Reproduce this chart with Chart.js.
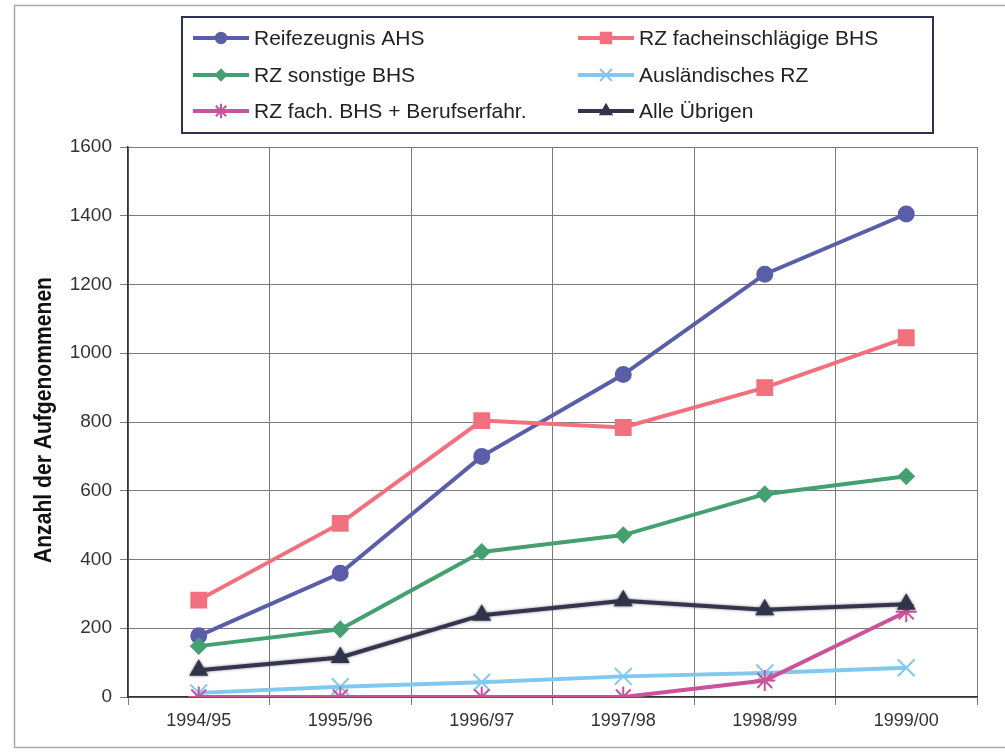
<!DOCTYPE html>
<html>
<head>
<meta charset="utf-8">
<script src="https://cdn.jsdelivr.net/npm/chart.js@4/dist/chart.umd.min.js"></script>
<style>
  html, body { margin: 0; padding: 0; background: #fff; }
  #wrap { width: 1005px; height: 753px; position: relative; }
</style>
</head>
<body>
<div id="wrap"><canvas id="LineChart"></canvas></div>
<script>
const years = ["1994/95", "1995/96", "1996/97", "1997/98", "1998/99", "1999/00"];

const reifeAHS = [178, 360, 700, 938, 1230, 1405];
const rzFachBHS = [282, 505, 804, 784, 900, 1045];
const rzSonstBHS = [148, 197, 422, 471, 590, 642];
const auslRZ = [12, 30, 43, 60, 70, 85];
const rzFachBeruf = [0, 0, 0, 0, 48, 248];
const alleUebrigen = [78, 115, 238, 280, 254, 270];

const yTicks = [0, 200, 400, 600, 800, 1000, 1200, 1400, 1600];

const FONT = "'Liberation Sans', Arial, sans-serif";

const series = [
  { label: "Reifezeugnis AHS", data: reifeAHS, color: "#5a5ea8", style: "circle", r: 7.5 },
  { label: "RZ facheinschlägige BHS", data: rzFachBHS, color: "#f2707e", style: "rect", r: 10.5 },
  { label: "RZ sonstige BHS", data: rzSonstBHS, color: "#45a071", style: "rectRot", r: 7.5 },
  { label: "Ausländisches RZ", data: auslRZ, color: "#80c8ee", style: "crossRot", r: 12 },
  { label: "RZ fach. BHS + Berufserfahr.", data: rzFachBeruf, color: "#c9529a", style: "star", r: 10.5 },
  { label: "Alle Übrigen", data: alleUebrigen, color: "#33354f", style: "triangle", r: 9 },
];

// frame, axis title and two-column legend drawn by hand
const framePlugin = {
  id: "frame",
  beforeDraw(chart) {
    const c = chart.ctx;
    c.save();
    c.fillStyle = "#fff";
    c.fillRect(0, 0, chart.width, chart.height);
    c.strokeStyle = "#aaa";
    c.lineWidth = 1.5;
    c.strokeRect(14.5, 5.5, 1000, 742);
    // y axis title, squeezed like the narrow original
    const title = "Anzahl der Aufgenommenen";
    c.font = "bold 24px " + FONT;
    const w = c.measureText(title).width;
    c.translate(44, 420);
    c.rotate(-Math.PI / 2);
    c.scale(286 / w, 1);
    c.fillStyle = "#111";
    c.textAlign = "center";
    c.textBaseline = "middle";
    c.fillText(title, 0, 0);
    c.restore();
  },
  beforeDatasetDraw(chart, args) {
    if (args.index === 5) {
      chart.ctx.save();
      chart.ctx.shadowColor = "rgba(40,40,40,0.55)";
      chart.ctx.shadowBlur = 3;
    }
  },
  afterDatasetDraw(chart, args) {
    if (args.index === 5) chart.ctx.restore();
  },
  afterDraw(chart) {
    const c = chart.ctx;
    c.save();
    c.strokeStyle = "#2c3150";
    c.lineWidth = 2;
    c.strokeRect(182, 17, 751, 116);
    const cols = [193, 578];
    const rows = [38, 75, 111];
    chart.data.datasets.forEach((ds, i) => {
      const x = cols[i % 2];
      const y = rows[Math.floor(i / 2)];
      c.strokeStyle = ds.borderColor;
      c.lineWidth = 4;
      c.beginPath();
      c.moveTo(x, y);
      c.lineTo(x + 56, y);
      c.stroke();
      c.fillStyle = ds.borderColor;
      c.lineWidth = 2;
      Chart.helpers.drawPoint(c, {
        pointStyle: ds.pointStyle, radius: ds.pointRadius * 0.7, rotation: 0, borderWidth: 2
      }, x + 28, y);
      c.fillStyle = "#222";
      c.font = "21px " + FONT;
      c.textBaseline = "middle";
      c.fillText(ds.label, x + 61, y + 1);
    });
    c.restore();
  }
};

new Chart(document.getElementById("LineChart"), {
  type: "line",
  data: {
    labels: years,
    datasets: series.map((s, i) => ({
      label: s.label,
      data: s.data,
      borderColor: s.color,
      backgroundColor: s.color,
      borderWidth: 4,
      pointStyle: s.style,
      pointRadius: s.r,
      pointBorderWidth: 2,
      pointBorderColor: s.color,
      pointBackgroundColor: s.color,
      tension: 0,
      order: 10 - i,
    })),
  },
  options: {
    responsive: true,
    maintainAspectRatio: false,
    animation: false,
    layout: { padding: { left: 20, right: 28, top: 147, bottom: 0 } },
    plugins: { legend: { display: false }, tooltip: { enabled: false } },
    scales: {
      x: {
        offset: true,
        grid: { offset: true, color: "#7a7a7a", lineWidth: 1, tickLength: 8, drawTicks: true },
        border: { color: "#333", width: 1.5 },
        ticks: { color: "#333", font: { family: FONT, size: 18 }, padding: 5 },
        afterFit: s => { s.height = 56; },
      },
      y: {
        min: 0,
        max: 1600,
        afterBuildTicks: s => { s.ticks = yTicks.map(v => ({ value: v })); },
        grid: { color: "#7a7a7a", lineWidth: 1, tickLength: 8 },
        border: { color: "#333", width: 1.5 },
        ticks: { color: "#333", font: { family: FONT, size: 19 }, padding: 8, callback: v => String(v) },
        afterFit: s => { s.width = 108; },
      },
    },
  },
  plugins: [framePlugin],
});
</script>
</body>
</html>
